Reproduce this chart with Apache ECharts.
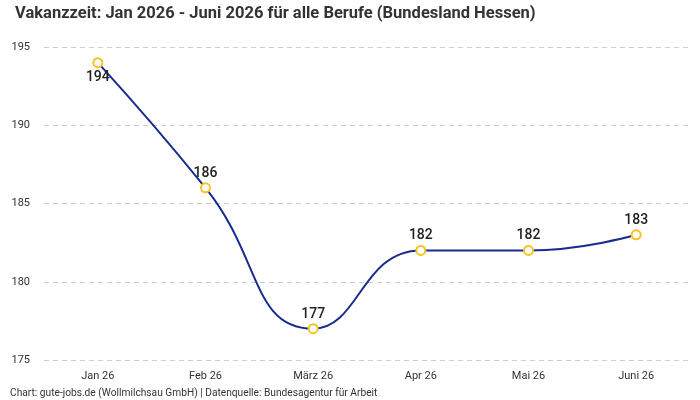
<!DOCTYPE html>
<html><head><meta charset="utf-8">
<script src="https://cdn.jsdelivr.net/npm/echarts@6/dist/echarts.min.js"></script>
<style>html,body{margin:0;padding:0;background:#fff}#c{width:700px;height:400px}</style>
</head><body><div id="c"></div>
<script>
const categories = ["Jan 26","Feb 26","März 26","Apr 26","Mai 26","Juni 26"];
const values = [194,186,177,182,182,183];
const yTicks = [175,180,185,190,195];
const FONT = "Roboto, 'Noto Sans', sans-serif";
const chart = echarts.init(document.getElementById('c'));
chart.setOption({
  animation:false,
  textStyle:{fontFamily:FONT},
  title:{text:"Vakanzzeit: Jan 2026 - Juni 2026 für alle Berufe (Bundesland Hessen)",left:10,top:0,
    textStyle:{fontSize:16.5,fontWeight:'bold',color:'#333',fontFamily:FONT}},
  graphic:[{type:'text',left:10,top:388,style:{text:"Chart: gute-jobs.de (Wollmilchsau GmbH) | Datenquelle: Bundesagentur für Arbeit",fontSize:10.2,fill:'#333',fontFamily:FONT}}],
  grid:{left:44,right:10,top:47,bottom:40},
  xAxis:{type:'category',data:categories,boundaryGap:true,
    axisLine:{show:false},axisTick:{show:false},
    axisLabel:{color:'#333',fontSize:11,margin:11,fontFamily:FONT}},
  yAxis:{type:'value',min:yTicks[0],max:yTicks[yTicks.length-1],interval:5,
    axisLine:{show:false},axisTick:{show:false},
    axisLabel:{color:'#333',fontSize:11,margin:14,fontFamily:FONT},
    splitLine:{lineStyle:{type:[5,4],color:'#ccc'}}},
  series:[{type:'line',smooth:true,data:values.map((v,i)=>({value:v,label:{position:i===0?'bottom':'top'}})),
    lineStyle:{color:'#1a2b8f',width:2},
    symbol:'circle',symbolSize:9,
    itemStyle:{color:'#fff',borderColor:'#f7c31c',borderWidth:2},
    label:{show:true,fontSize:14,fontWeight:500,color:'#222',distance:2,fontFamily:FONT}}]
});
</script></body></html>
